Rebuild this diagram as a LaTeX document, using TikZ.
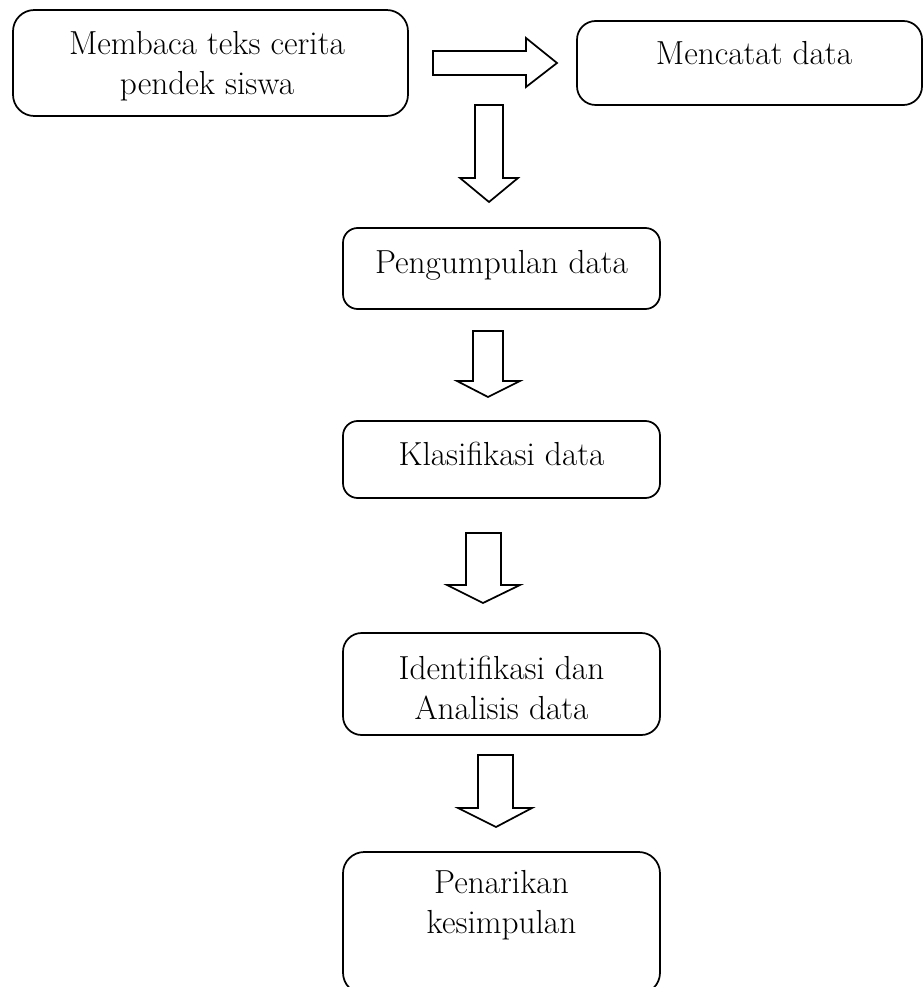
\documentclass[tikz,border=0pt]{standalone}
\usepackage{fontspec}

\tikzset{every picture/.style={line width=1.3pt}}
\tikzset{
  procbox/.style={draw, rounded corners=14pt, inner sep=0pt},
  steptext/.style={align=center, anchor=base, inner sep=0pt, font=\fontsize{25pt}{30pt}\selectfont},
  blockarrow/.style={draw, line join=miter, fill=white},
}

\begin{document}
\begin{tikzpicture}[x=0.75pt,y=0.75pt,yscale=-1,xscale=1]
\useasboundingbox (0,0) rectangle (923,987);

%Shape: Rounded Rectangle
\node[procbox, minimum width=296.25pt, minimum height=79.5pt, rounded corners=16pt] (membaca) at (210.5,63) {};
%Shape: Rounded Rectangle
\node[procbox, minimum width=258.75pt, minimum height=63pt] (mencatat) at (749.5,63) {};
%Shape: Rounded Rectangle
\node[procbox, minimum width=237.75pt, minimum height=60.75pt, rounded corners=11pt] (pengumpulan) at (501.5,268.5) {};
%Shape: Rounded Rectangle
\node[procbox, minimum width=237.75pt, minimum height=57.75pt, rounded corners=11pt] (klasifikasi) at (501.5,459.5) {};
%Shape: Rounded Rectangle
\node[procbox, minimum width=237.75pt, minimum height=76.5pt] (identifikasi) at (501.5,684) {};
%Shape: Rounded Rectangle
\node[procbox, minimum width=237.75pt, minimum height=106.5pt, rounded corners=16pt] (penarikan) at (501.5,923) {};

%Right Arrow
\draw[blockarrow] (433,51) -- (526,51) -- (526,38) -- (557,63) -- (526,87) -- (526,75) -- (433,75) -- cycle ;
%Down Arrow
\draw[blockarrow] (475,105) -- (503,105) -- (503,178) -- (518,178) -- (489,202) -- (460,178) -- (475,178) -- cycle ;
%Down Arrow
\draw[blockarrow] (473,331) -- (503,331) -- (503,381) -- (520,381) -- (488,397) -- (457,381) -- (473,381) -- cycle ;
%Down Arrow
\draw[blockarrow] (466,533) -- (501,533) -- (501,585) -- (520,585) -- (483,603) -- (447,585) -- (466,585) -- cycle ;
%Down Arrow
\draw[blockarrow] (478,755) -- (513,755) -- (513,808) -- (532,808) -- (496,827) -- (458,808) -- (478,808) -- cycle ;

% Text Node (baseline of the last line)
\node[steptext] (membacatxt) at (207,95) {Membaca teks cerita\\pendek siswa};
% Text Node
\node[steptext] (mencatattxt) at (754,65) {Mencatat data};
% Text Node
\node[steptext] (pengumpulantxt) at (501.5,273) {Pengumpulan data};
% Text Node
\node[steptext] (klasifikasitxt) at (501.5,465) {Klasifikasi data};
% Text Node
\node[steptext] (identifikasitxt) at (501.5,719) {Identifikasi dan\\Analisis data};
% Text Node
\node[steptext] (penarikantxt) at (501.5,933) {Penarikan\\kesimpulan};

\end{tikzpicture}
\end{document}
